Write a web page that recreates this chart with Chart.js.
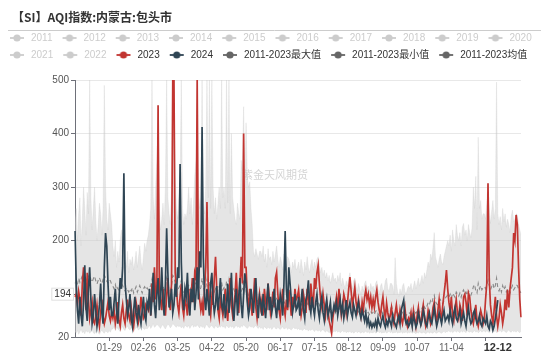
<!DOCTYPE html>
<html><head><meta charset="utf-8">
<script src="https://cdn.jsdelivr.net/npm/chart.js@4"></script>
<style>html,body{margin:0;padding:0;background:#fff;}canvas{display:block;}</style>
</head><body>
<canvas id="c" width="550" height="357"></canvas>
<script>
// ---------- DATA ----------
const chartTitle = '【SI】AQI指数:内蒙古:包头市';
const watermark = '紫金天风期货';
const legendNames = ['2011','2012','2013','2014','2015','2016','2017','2018','2019','2020',
  '2021','2022','2023','2024','2011-2023最大值','2011-2023最小值','2011-2023均值'];
const xTickLabels = ['01-29','02-26','03-25','04-22','05-20','06-17','07-15','08-12','09-09','10-07','11-04','12-02'];
const yTickValues = [20, 100, 200, 300, 400, 500];
const pointerX = '12-12';
const pointerYTick = 100;
const pointerYText = '194';

// 2023 (Feb 29 null)
const aqi2023 = [
 95,100,80,105,90,60,120,150,110,70,140,90,55,70,85,50,45,60,80,55,40,65,90,60,45,55,70,85,60,50,65,
 55,70,45,60,85,50,40,65,80,55,45,70,90,60,50,75,55,40,60,85,70,50,65,95,75,55,60,80,null,
 70,95,60,120,85,150,90,110,453,120,90,70,110,80,60,95,130,85,70,120,500,500,140,110,80,65,95,120,75,60,90,
 80,60,110,75,95,130,85,140,130,500,110,90,70,85,60,110,150,272,120,75,60,95,80,130,170,110,70,55,90,75,
 60,85,110,70,50,95,130,80,60,75,100,140,90,65,120,170,120,400,150,150,95,70,110,85,60,90,130,75,55,80,100,
 75,90,60,110,85,70,120,95,65,80,105,75,130,141,100,70,55,85,110,75,60,90,70,108,85,60,95,75,110,90,
 95,108,80,60,75,100,85,65,110,90,70,120,95,75,130,110,140,154,120,90,75,100,80,60,85,70,50,40,27,55,70,
 80,95,70,110,85,60,75,100,90,65,85,110,132,105,80,95,113,85,70,90,75,60,85,70,95,108,90,100,80,95,75,
 90,75,95,108,85,70,60,80,95,70,55,83,65,51,60,75,55,45,65,80,60,50,70,55,45,60,75,50,40,55,
 50,65,45,70,55,40,60,75,50,45,65,80,55,40,50,70,60,45,55,75,85,60,50,70,90,65,55,80,100,120,145,
 110,85,70,95,60,50,75,90,65,55,80,70,50,95,100,85,60,102,95,70,55,45,60,80,50,40,55,70,60,45,
 55,90,120,307,130,80,60,45,70,95,60,40,55,80,65,45,60,90,70,108,75,110,130,150,214,200,248,230,150,90,57
];

// 2024 (data until 12-12)
const aqi2024 = [
 218,120,70,45,95,60,40,85,154,75,50,110,150,90,45,60,100,70,40,55,80,120,65,45,150,214,190,120,70,95,60,
 60,85,110,70,45,90,130,110,150,326,120,90,60,75,100,55,40,70,95,65,50,80,60,45,70,95,60,50,85,
 75,110,60,90,140,80,55,100,130,70,95,150,85,60,120,223,140,75,90,110,65,80,120,95,150,130,343,160,90,70,110,
 95,140,80,60,110,85,130,70,100,150,90,180,150,412,170,95,70,110,85,60,120,140,90,65,80,115,70,95,130,80,
 70,100,55,80,120,65,90,140,75,50,85,110,60,95,130,80,55,100,139,120,85,60,75,110,90,65,100,130,80,55,95,
 85,60,100,75,55,90,120,70,95,65,80,110,75,55,90,70,100,85,60,120,218,110,75,150,120,90,65,80,100,70,
 75,95,60,85,110,70,55,90,100,126,80,65,95,75,60,85,100,70,55,80,95,65,51,75,90,60,70,85,55,65,80,
 70,85,60,75,90,65,80,55,70,89,60,75,85,65,57,80,70,60,75,85,65,55,70,60,50,65,45,55,40,47,38,
 45,40,50,38,55,45,40,51,60,45,38,50,42,55,48,40,60,50,44,38,52,60,45,70,80,89,55,45,50,40,
 45,55,40,60,50,38,45,65,55,42,50,70,60,45,40,55,65,50,45,60,75,55,40,50,65,55,45,60,70,50,55,
 60,50,70,55,45,65,75,55,50,60,70,45,55,65,50,40,60,75,55,45,50,65,70,55,45,50,60,45,40,55,
 50,45,60,40,35,50,45,33,40,55,70,89,null,null,null,null,null,null,null,null,null,null,null,null,null,null,null,null,null,null,null
];

// 2011-2023 max
const aqiMax = [
 230,260,200,250,280,190,240,300,260,210,290,250,500,280,220,260,300,240,200,230,270,250,210,260,490,300,240,220,270,250,230,
 190,170,200,150,180,160,200,220,190,170,160,150,180,140,165,155,170,145,160,180,150,170,190,160,145,170,195,180,200,
 210,230,260,500,280,240,300,350,453,260,220,240,270,230,300,500,280,250,230,300,500,500,320,260,240,280,300,500,260,230,250,
 240,260,300,250,280,230,270,320,350,500,300,260,280,500,270,250,300,500,280,500,260,500,300,250,280,240,270,300,260,500,
 280,300,260,500,270,500,250,400,280,260,240,230,270,250,240,350,330,450,300,420,320,300,310,260,230,180,170,185,175,165,180,
 180,170,190,160,175,150,185,165,170,155,180,160,175,190,165,150,170,160,145,175,160,150,170,165,155,140,160,150,165,145,
 150,160,140,165,150,135,160,145,170,150,140,155,165,145,160,150,165,170,155,140,150,135,145,130,140,125,135,120,130,140,125,
 130,120,135,125,140,115,130,120,110,125,115,130,140,120,110,125,130,115,105,120,110,100,115,105,120,125,110,115,105,120,110,
 115,105,120,125,110,100,115,120,105,110,125,130,110,105,120,120,115,100,168,120,105,95,110,100,115,120,105,100,110,115,
 110,120,105,115,125,110,120,130,115,125,135,120,140,130,145,160,150,175,165,187,215,170,160,150,165,175,160,155,170,180,190,
 200,190,210,180,220,200,190,230,210,200,215,190,225,232,210,220,200,230,215,205,225,300,260,320,220,393,260,275,240,250,
 250,240,270,307,260,232,255,275,240,260,496,250,230,245,220,260,235,250,225,240,230,215,245,257,235,240,250,248,230,220,210
];

// 2011-2023 min
const aqiMin = [
 30,28,32,25,30,35,28,30,26,33,29,31,27,30,34,28,26,30,32,28,25,30,33,29,27,31,30,28,32,29,35,
 35,40,32,38,36,33,30,37,39,34,32,38,40,35,33,37,36,30,34,38,36,33,35,40,38,36,34,37,35,
 38,42,36,40,45,38,40,44,42,39,36,41,43,38,35,40,44,42,37,40,45,43,40,38,42,39,41,37,40,36,42,
 40,38,42,36,40,44,38,41,39,43,40,37,42,38,40,36,41,44,39,37,40,42,38,36,41,39,37,40,38,42,
 38,40,36,42,39,37,41,38,40,36,39,42,38,40,37,41,39,43,40,38,36,39,41,38,40,37,39,42,38,36,40,
 36,38,34,40,37,35,39,36,38,34,37,40,36,35,38,36,34,37,39,35,36,38,34,37,35,33,36,38,35,37,
 34,36,33,35,32,34,36,33,35,31,34,32,35,33,30,34,32,31,33,30,32,34,31,29,32,30,28,30,27,29,31,
 30,32,29,31,28,30,32,29,31,28,30,29,31,28,30,27,29,31,28,30,29,27,30,28,29,31,28,30,27,29,28,
 28,30,27,29,31,28,30,27,29,28,30,27,29,31,28,30,27,29,28,30,27,29,28,30,27,29,28,30,27,29,
 28,30,27,29,28,26,29,27,30,28,27,29,28,26,28,30,27,29,28,27,30,28,27,29,30,28,27,29,31,28,30,
 30,32,29,31,28,30,32,29,31,30,28,32,29,31,30,28,32,30,29,31,28,30,32,29,31,28,30,32,29,31,
 31,29,32,30,28,31,33,29,30,32,28,31,30,33,29,31,32,30,28,31,33,30,29,32,30,31,29,32,30,28,31
];

// 2011-2023 average
const aqiAvg = [
 120,125,118,130,122,128,135,126,120,132,124,130,138,127,122,129,134,125,119,126,131,124,120,128,136,130,124,121,127,125,118,
 115,110,118,108,112,105,114,120,116,110,106,112,108,104,110,106,112,102,108,114,104,110,116,108,102,110,114,108,112,
 108,112,116,128,110,106,114,120,130,112,104,110,116,108,114,130,118,110,106,116,135,132,118,110,106,112,116,126,110,104,108,
 106,110,116,108,112,104,110,118,122,136,116,108,112,130,114,106,112,128,110,124,108,126,112,104,110,102,108,114,106,122,
 108,112,104,124,108,126,104,100,106,110,102,98,104,108,100,104,110,128,106,118,102,98,106,96,92,88,94,90,86,92,88,
 90,86,92,84,88,82,90,85,88,82,90,84,88,92,86,80,86,82,78,86,82,78,84,82,78,74,80,76,82,76,
 80,84,76,82,78,74,80,76,84,78,74,80,84,76,80,78,84,86,80,74,78,72,76,70,74,68,72,66,70,74,68,
 72,68,74,70,76,66,72,68,64,70,66,72,76,68,64,70,72,66,62,68,64,60,66,62,68,70,64,66,62,68,64,
 66,62,68,70,64,60,66,68,62,64,70,72,64,62,68,80,66,60,64,68,62,58,64,60,66,68,62,60,64,66,
 64,68,62,66,70,64,68,72,66,70,74,68,76,72,78,84,80,88,84,92,98,86,82,80,86,90,84,82,88,92,96,
 98,94,100,92,102,98,94,104,100,96,102,94,104,108,100,104,98,106,102,98,104,114,118,106,102,120,110,116,108,112,
 114,110,118,126,116,108,114,120,110,116,130,112,106,112,104,116,108,114,104,110,106,102,110,116,108,112,118,116,110,106,102
];

// category labels: every day of 2024 as MM-DD
const dayLabels = [];
for (let d = new Date(Date.UTC(2024, 0, 1)); d.getUTCFullYear() === 2024; d.setUTCDate(d.getUTCDate() + 1)) {
  dayLabels.push(String(d.getUTCMonth() + 1).padStart(2, '0') + '-' + String(d.getUTCDate()).padStart(2, '0'));
}

// ---------- STYLE ----------
const FONT = '"Liberation Sans","Noto Sans CJK SC",sans-serif';
const C2023 = '#c23531', C2024 = '#2f4554', CSTAT = '#666666', COFF = '#cccccc';
const legendColor = n => n === '2023' ? C2023 : n === '2024' ? C2024 : n.startsWith('2011-') ? CSTAT : COFF;

function makeIcon(color) {
  const c = document.createElement('canvas');
  c.width = 19; c.height = 10;
  const g = c.getContext('2d');
  g.strokeStyle = color; g.lineWidth = 1.8;
  g.beginPath(); g.moveTo(3, 5); g.lineTo(17, 5); g.stroke();
  g.fillStyle = color;
  g.beginPath(); g.arc(10, 5, 3.6, 0, Math.PI * 2); g.fill();
  return c;
}

const decor = {
  id: 'decor',
  beforeDraw(chart) {
    const ctx = chart.ctx;
    ctx.save();
    ctx.fillStyle = '#333';
    ctx.font = 'bold 12px "Noto Sans CJK SC", sans-serif';
    ctx.textBaseline = 'middle';
    ctx.textAlign = 'left';
    ctx.fillText(chartTitle, 12, 17);
    ctx.strokeStyle = '#cccccc';
    ctx.lineWidth = 1;
    ctx.beginPath(); ctx.moveTo(8, 30.5); ctx.lineTo(541, 30.5); ctx.stroke();
    ctx.restore();
  },
  beforeDatasetsDraw(chart) {
    const ctx = chart.ctx;
    ctx.save();
    ctx.fillStyle = 'rgba(160,160,160,0.45)';
    ctx.font = '11px "Noto Sans CJK SC", sans-serif';
    ctx.textAlign = 'center';
    ctx.textBaseline = 'middle';
    ctx.fillText(watermark, 275, 175);
    ctx.restore();
  },
  afterDraw(chart) {
    const ctx = chart.ctx;
    const xs = chart.scales.x, ys = chart.scales.y;
    ctx.save();
    const px = xs.getPixelForValue(dayLabels.indexOf(pointerX));
    ctx.font = 'bold 11px ' + FONT;
    ctx.fillStyle = '#333';
    ctx.textAlign = 'center';
    ctx.textBaseline = 'middle';
    ctx.fillText(pointerX, px, 348);
    const py = ys.getPixelForValue(pointerYTick);
    ctx.font = '10px ' + FONT;
    const w = ctx.measureText(pointerYText).width + 6;
    ctx.fillStyle = '#fff';
    ctx.fillRect(74 - w, py - 6.5, w, 13);
    ctx.strokeStyle = '#e0e0e0';
    ctx.strokeRect(74 - w + 0.5, py - 6, w - 1, 12);
    ctx.fillStyle = '#333';
    ctx.textAlign = 'right';
    ctx.fillText(pointerYText, 71, py);
    ctx.restore();
  }
};

Chart.defaults.font.family = FONT;
Chart.defaults.font.size = 10;

new Chart(document.getElementById('c'), {
  type: 'line',
  data: {
    labels: dayLabels,
    datasets: [
      { label: '2024', data: aqi2024, borderColor: C2024, borderWidth: 1.7, fill: false },
      { label: '2023', data: aqi2023, borderColor: C2023, borderWidth: 1.7, fill: false, spanGaps: true },
      { label: '2011-2023均值', data: aqiAvg, borderColor: '#8a8a8a', borderWidth: 1.1, borderDash: [4, 3], fill: false },
      { label: '2011-2023最大值', data: aqiMax, borderColor: 'rgba(205,205,205,0.6)', borderWidth: 0.5,
        fill: '+1', backgroundColor: 'rgba(205,205,205,0.52)' },
      { label: '2011-2023最小值', data: aqiMin, borderColor: 'rgba(205,205,205,0.6)', borderWidth: 0.5, fill: false }
    ]
  },
  options: {
    responsive: false,
    animation: false,
    devicePixelRatio: 1,
    layout: { padding: { top: 26, left: 0, right: 0, bottom: 0 } },
    elements: { point: { radius: 0, hoverRadius: 0 }, line: { tension: 0 } },
    plugins: {
      // empty spacer box placed between the legend and the plot
      title: { display: true, text: '', weight: 500, position: 'top',
               font: { size: 1, lineHeight: 1 }, padding: { top: 0, bottom: 9 } },
      tooltip: { enabled: false },
      legend: {
        position: 'top',
        align: 'start',
        onClick: null,
        labels: {
          usePointStyle: true,
          pointStyleWidth: 19,
          padding: 7,
          font: { size: 10, family: FONT },
          generateLabels: () => legendNames.map(n => ({
            text: n,
            fillStyle: legendColor(n),
            strokeStyle: legendColor(n),
            fontColor: legendColor(n) === COFF ? COFF : '#333',
            lineWidth: 0,
            hidden: false,
            pointStyle: makeIcon(legendColor(n))
          }))
        }
      }
    },
    scales: {
      x: {
        type: 'category',
        grid: { display: true, drawOnChartArea: false, drawTicks: true, tickLength: 4, tickColor: '#6e7079' },
        border: { display: true, color: '#6e7079', width: 1 },
        ticks: {
          autoSkip: false, maxRotation: 0, minRotation: 0, padding: 1, color: '#666',
          font: { size: 10 },
          callback: function (v) { const l = this.getLabelForValue(v); return l === '12-02' ? '' : l; }
        },
        afterBuildTicks: s => { s.ticks = xTickLabels.map(l => ({ value: dayLabels.indexOf(l) })); },
        afterFit: s => { s.height = 20; s.paddingRight = 29; s.paddingLeft = 0; }
      },
      y: {
        min: 20, max: 500,
        grid: { color: '#e8e8e8', drawTicks: true, tickLength: 4, tickColor: '#6e7079' },
        border: { display: true, color: '#6e7079', width: 1 },
        ticks: {
          padding: 2, color: '#555', font: { size: 10 },
          callback: v => v === pointerYTick ? '' : String(v)
        },
        afterBuildTicks: s => { s.ticks = yTickValues.map(v => ({ value: v })); },
        afterFit: s => { s.width = 75; s.paddingTop = 0; }
      }
    }
  },
  plugins: [decor]
});
</script>
</body></html>
